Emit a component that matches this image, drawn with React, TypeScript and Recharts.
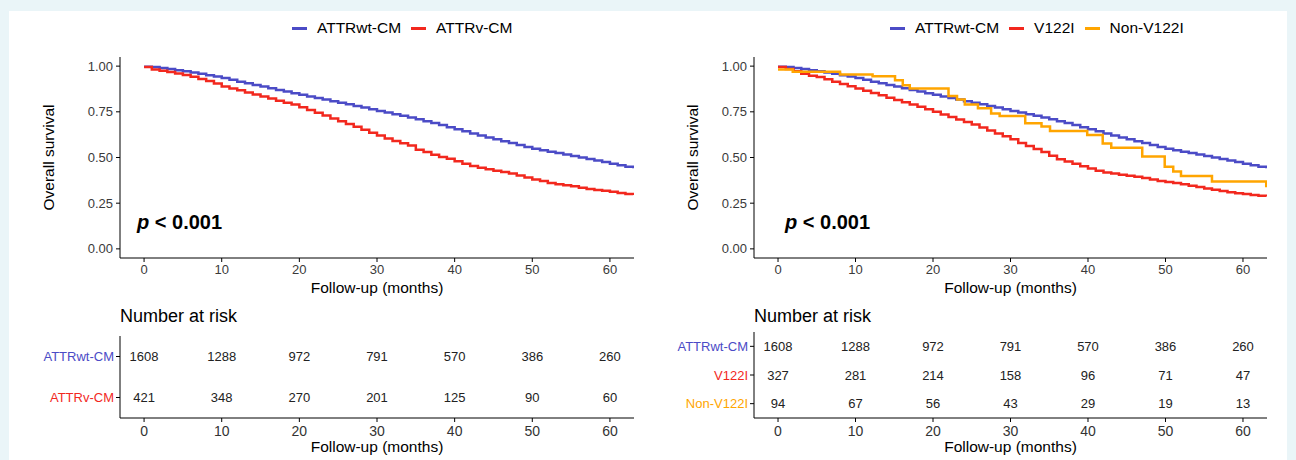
import React from "react";
import { LineChart, Line, XAxis, YAxis, Legend, ScatterChart, Scatter } from "recharts";

const FONT = '"Liberation Sans", Arial, Helvetica, sans-serif';
const BLUE = "#4B4BC6";
const RED = "#F2281E";
const ORANGE = "#FFA500";

// follow-up grid (months) for the KM curves
const months = [
  0, 1, 2, 3, 4, 5, 6, 7, 8, 9, 10, 11, 12, 13, 14, 15, 16, 17, 18, 19, 20, 21,
  22, 23, 24, 25, 26, 27, 28, 29, 30, 31, 32, 33, 34, 35, 36, 37, 38, 39, 40, 41,
  42, 43, 44, 45, 46, 47, 48, 49, 50, 51, 52, 53, 54, 55, 56, 57, 58, 59, 60, 61,
  62, 63,
];

const wtSurvival = [
  0.997, 0.995, 0.99, 0.985, 0.978, 0.972, 0.965, 0.958, 0.95, 0.943, 0.935,
  0.925, 0.915, 0.906, 0.897, 0.888, 0.879, 0.87, 0.861, 0.852, 0.843, 0.834,
  0.826, 0.817, 0.808, 0.8, 0.791, 0.782, 0.773, 0.764, 0.755, 0.746, 0.737,
  0.728, 0.719, 0.709, 0.699, 0.689, 0.678, 0.666, 0.654, 0.643, 0.632, 0.621,
  0.61, 0.6, 0.589, 0.579, 0.568, 0.558, 0.548, 0.54, 0.532, 0.524, 0.516,
  0.508, 0.5, 0.492, 0.484, 0.475, 0.466, 0.458, 0.449, 0.441,
];

const vSurvival = [
  0.995, 0.982, 0.975, 0.968, 0.96, 0.952, 0.942, 0.93, 0.918, 0.905, 0.888,
  0.878, 0.868, 0.856, 0.845, 0.834, 0.823, 0.811, 0.8, 0.79, 0.775, 0.76,
  0.745, 0.73, 0.713, 0.698, 0.683, 0.668, 0.652, 0.636, 0.62, 0.604, 0.59,
  0.578, 0.566, 0.542, 0.53, 0.515, 0.503, 0.493, 0.48, 0.466, 0.454, 0.444,
  0.436, 0.428, 0.42, 0.412, 0.402, 0.391, 0.38, 0.372, 0.36, 0.354, 0.348,
  0.342, 0.335, 0.328, 0.322, 0.318, 0.313, 0.306, 0.3, 0.295,
];

const v122iSurvival = [
  0.995, 0.985, 0.972, 0.958, 0.948, 0.94, 0.928, 0.915, 0.902, 0.89, 0.878,
  0.865, 0.853, 0.84, 0.827, 0.815, 0.803, 0.79, 0.778, 0.764, 0.75, 0.736,
  0.722, 0.708, 0.694, 0.68, 0.664, 0.648, 0.632, 0.616, 0.6, 0.58, 0.563,
  0.547, 0.53, 0.51, 0.49, 0.478, 0.466, 0.452, 0.44, 0.428, 0.418, 0.412,
  0.406, 0.4, 0.394, 0.388, 0.38, 0.372, 0.366, 0.36, 0.354, 0.346, 0.338,
  0.33, 0.323, 0.316, 0.31, 0.304, 0.3, 0.295, 0.29, 0.286,
];

const nonV122iMonths = [
  0, 1.9, 8, 12.2, 15.1, 16.1, 17, 22, 23.1, 24.1, 25.8, 27.5, 28.6, 31.9, 34,
  35.1, 39.9, 41.9, 43, 47, 49.9, 51, 52, 56, 63,
];
const nonV122iSurvival = [
  0.982, 0.969, 0.954, 0.945, 0.923, 0.896, 0.878, 0.836, 0.818, 0.79, 0.769,
  0.741, 0.727, 0.687, 0.669, 0.645, 0.623, 0.577, 0.554, 0.505, 0.45, 0.423,
  0.399, 0.368, 0.337,
];

const riskMonths = [0, 10, 20, 30, 40, 50, 60];
const wtAtRisk = [1608, 1288, 972, 791, 570, 386, 260];
const vAtRisk = [421, 348, 270, 201, 125, 90, 60];
const v122iAtRisk = [327, 281, 214, 158, 96, 71, 47];
const nonV122iAtRisk = [94, 67, 56, 43, 29, 19, 13];

const xTicks = [0, 10, 20, 30, 40, 50, 60];
const yTicks = [0, 0.25, 0.5, 0.75, 1];
const X_DOMAIN: [number, number] = [-3.1, 63.1];

type Series = { name: string; color: string; data: { t: number; s: number }[] };
type RiskGroup = { name: string; color: string; atRisk: number[] };

const toCurve = (t: number[], s: number[]) => t.map((m, i) => ({ t: m, s: s[i] }));

const leftSeries: Series[] = [
  { name: "ATTRwt-CM", color: BLUE, data: toCurve(months, wtSurvival) },
  { name: "ATTRv-CM", color: RED, data: toCurve(months, vSurvival) },
];

const rightSeries: Series[] = [
  { name: "ATTRwt-CM", color: BLUE, data: toCurve(months, wtSurvival) },
  { name: "V122I", color: RED, data: toCurve(months, v122iSurvival) },
  { name: "Non-V122I", color: ORANGE, data: toCurve(nonV122iMonths, nonV122iSurvival) },
];

const leftGroups: RiskGroup[] = [
  { name: "ATTRwt-CM", color: BLUE, atRisk: wtAtRisk },
  { name: "ATTRv-CM", color: RED, atRisk: vAtRisk },
];

const rightGroups: RiskGroup[] = [
  { name: "ATTRwt-CM", color: BLUE, atRisk: wtAtRisk },
  { name: "V122I", color: RED, atRisk: v122iAtRisk },
  { name: "Non-V122I", color: ORANGE, atRisk: nonV122iAtRisk },
];

// legend keeps the series order (recharts sorts payload by name otherwise)
function legendContent(series: Series[]) {
  return () => (
    <div style={{ display: "flex", alignItems: "center", fontFamily: FONT, fontSize: 15.5, lineHeight: "20px", color: "#000" }}>
      {series.map((s) => (
        <div key={s.name} style={{ display: "flex", alignItems: "center", marginRight: 10 }}>
          <span style={{ display: "inline-block", width: 15, height: 3, background: s.color, marginRight: 10 }} />
          <span>{s.name}</span>
        </div>
      ))}
    </div>
  );
}

function yTitle(x: number) {
  return (props: any) => {
    const vb = props.viewBox || { y: 57, height: 201 };
    const cy = vb.y + vb.height / 2;
    return (
      <text x={x} y={cy} transform={`rotate(-90 ${x} ${cy})`} textAnchor="middle" dominantBaseline="central" fontSize={15.5} fontFamily={FONT} fill="#000">
        Overall survival
      </text>
    );
  };
}

function SurvivalPanel({ left, series, marginLeft, marginRight, legendLeft, titleX }: {
  left: number; series: Series[]; marginLeft: number; marginRight: number; legendLeft: number; titleX: number;
}) {
  return (
    <div style={{ position: "absolute", left, top: 0 }}>
      <LineChart width={648} height={300} margin={{ top: 57, right: marginRight, bottom: 0, left: marginLeft }}>
        <XAxis
          type="number"
          dataKey="t"
          domain={X_DOMAIN}
          ticks={xTicks}
          interval={0}
          allowDataOverflow
          height={42}
          tickSize={4}
          tickMargin={3}
          axisLine={{ stroke: "#000" }}
          tickLine={{ stroke: "#000" }}
          tick={{ fill: "#3a3a3a", fontSize: 13, fontFamily: FONT }}
          label={{ value: "Follow-up (months)", position: "insideBottom", offset: 7, fill: "#000", fontSize: 15.5, fontFamily: FONT }}
        />
        <YAxis
          type="number"
          domain={[-0.05, 1.05]}
          ticks={yTicks}
          interval={0}
          allowDataOverflow
          width={60}
          tickSize={4}
          tickMargin={3}
          tickFormatter={(v: number) => v.toFixed(2)}
          axisLine={{ stroke: "#000" }}
          tickLine={{ stroke: "#000" }}
          tick={{ fill: "#3a3a3a", fontSize: 13, fontFamily: FONT }}
          label={{ content: yTitle(titleX) }}
        />
        <Legend
          layout="horizontal"
          verticalAlign="middle"
          align="center"
          wrapperStyle={{ top: 18, left: legendLeft, width: "auto", height: "auto" }}
          content={legendContent(series)}
        />
        {series.map((s) => (
          <Line
            key={s.name}
            name={s.name}
            data={s.data}
            dataKey="s"
            type="stepAfter"
            stroke={s.color}
            strokeWidth={2.5}
            dot={false}
            activeDot={false}
            isAnimationActive={false}
          />
        ))}
      </LineChart>
    </div>
  );
}

function RiskTable({ left, groups, marginLeft, marginRight, top }: {
  left: number; groups: RiskGroup[]; marginLeft: number; marginRight: number; top: number;
}) {
  const colorOf: Record<string, string> = {};
  groups.forEach((g) => (colorOf[g.name] = g.color));
  const RowTick = (props: any) => (
    <text x={props.x} y={props.y} textAnchor="end" dominantBaseline="central" fill={colorOf[props.payload.value]} fontSize={13} fontFamily={FONT}>
      {props.payload.value}
    </text>
  );
  return (
    <div style={{ position: "absolute", left, top: 300 }}>
      <ScatterChart width={648} height={160} margin={{ top, right: marginRight, bottom: 0, left: marginLeft }}>
        <XAxis
          type="number"
          dataKey="t"
          domain={X_DOMAIN}
          ticks={xTicks}
          interval={0}
          allowDataOverflow
          height={42}
          tickSize={4}
          tickMargin={4}
          axisLine={{ stroke: "#000" }}
          tickLine={{ stroke: "#000" }}
          tick={{ fill: "#333", fontSize: 14, fontFamily: FONT }}
          label={{ value: "Follow-up (months)", position: "insideBottom", offset: 8, fill: "#000", fontSize: 15.5, fontFamily: FONT }}
        />
        <YAxis
          type="category"
          dataKey="group"
          domain={groups.map((g) => g.name)}
          allowDuplicatedCategory={false}
          reversed
          width={100}
          tickSize={4}
          tickMargin={2}
          axisLine={{ stroke: "#000" }}
          tickLine={{ stroke: "#000" }}
          tick={RowTick}
        />
        {groups.map((g) => (
          <Scatter
            key={g.name}
            name={g.name}
            data={riskMonths.map((t, i) => ({ t, group: g.name, n: g.atRisk[i] }))}
            fill={g.color}
            isAnimationActive={false}
            shape={(p: any) => (
              <text x={p.cx} y={p.cy} textAnchor="middle" dominantBaseline="central" fontSize={13} fontFamily={FONT} fill="#222">
                {p.payload.n}
              </text>
            )}
          />
        ))}
      </ScatterChart>
    </div>
  );
}

const overlayText: React.CSSProperties = { position: "absolute", fontFamily: FONT, color: "#000", whiteSpace: "nowrap" };

export default function App() {
  return (
    <div style={{ position: "relative", width: 1296, height: 460, background: "#EAF5F8", overflow: "hidden", fontFamily: FONT }}>
      <style>{`body{margin:0}`}</style>
      <div style={{ position: "absolute", left: 9, top: 11, width: 1278, height: 449, background: "#fff" }} />

      <SurvivalPanel left={0} series={leftSeries} marginLeft={60} marginRight={14} legendLeft={292} titleX={48} />
      <SurvivalPanel left={648} series={rightSeries} marginLeft={46} marginRight={29} legendLeft={242} titleX={44} />

      <div style={{ ...overlayText, left: 137, top: 209, fontSize: 20, fontWeight: "bold", lineHeight: "26px" }}>
        <i>p</i> &lt; 0.001
      </div>
      <div style={{ ...overlayText, left: 785, top: 209, fontSize: 20, fontWeight: "bold", lineHeight: "26px" }}>
        <i>p</i> &lt; 0.001
      </div>

      <div style={{ ...overlayText, left: 120, top: 305, fontSize: 18, lineHeight: "22px" }}>Number at risk</div>
      <div style={{ ...overlayText, left: 754, top: 305, fontSize: 18, lineHeight: "22px" }}>Number at risk</div>

      <RiskTable left={0} groups={leftGroups} marginLeft={20} marginRight={14} top={36} />
      <RiskTable left={648} groups={rightGroups} marginLeft={6} marginRight={29} top={32} />
    </div>
  );
}
